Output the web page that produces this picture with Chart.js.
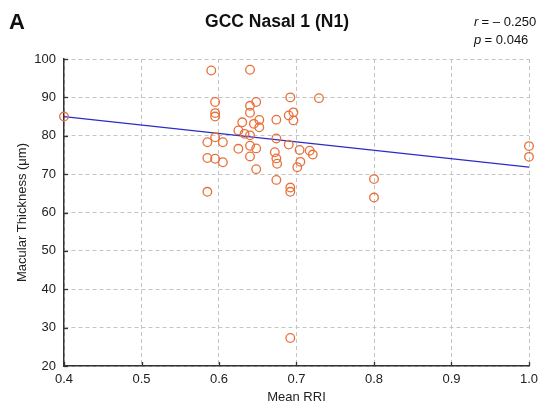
<!DOCTYPE html>
<html>
<head>
<meta charset="utf-8">
<script src="https://cdn.jsdelivr.net/npm/chart.js@4"></script>
<style>
  body { margin: 0; background: #fff; }
  #wrap { width: 550px; height: 413px; }
</style>
</head>
<body>
<div id="wrap"><canvas id="chart" width="550" height="413"></canvas></div>
<script>
// Mean RRI (x) and macular thickness (y)
const meanRRI = [0.40, 0.59, 0.595, 0.595, 0.595, 0.595, 0.585, 0.585, 0.595, 0.605,
  0.585, 0.605, 0.625, 0.625, 0.63, 0.64, 0.64, 0.648, 0.64, 0.64,
  0.64, 0.648, 0.648, 0.645, 0.652, 0.652, 0.64, 0.633, 0.692, 0.729,
  0.674, 0.696, 0.690, 0.696, 0.674, 0.690, 0.704, 0.717, 0.721, 0.672,
  0.674, 0.675, 0.705, 0.701, 0.674, 0.692, 0.692, 0.80, 0.80, 1.0,
  1.0, 0.692];
const thickness = [85.0, 97.0, 88.8, 85.9, 85.0, 79.6, 78.3, 74.2, 74.0, 73.1,
  65.4, 78.3, 81.4, 76.6, 83.5, 87.8, 86.0, 88.8, 97.2, 77.4,
  74.6, 76.7, 71.3, 83.1, 84.1, 82.2, 80.1, 80.5, 90.0, 89.8,
  84.2, 86.1, 85.3, 84.0, 79.3, 77.7, 76.3, 76.1, 75.1, 75.7,
  74.1, 72.7, 73.2, 71.8, 68.5, 66.5, 65.4, 68.7, 63.9, 77.3,
  74.5, 27.3];

// regression line ends
const fitX = [0.4, 1.0];
const fitY = [85.0, 71.8];

const chartTitle = 'GCC Nasal 1 (N1)';
const panelLabel = 'A';
const statR = '\u2013 0.250';
const statP = '0.046';

const points = meanRRI.map((x, i) => ({ x: x, y: thickness[i] }));
const fitLine = fitX.map((x, i) => ({ x: x, y: fitY[i] }));

// header texts and small inward tick marks
const extras = {
  id: 'extras',
  afterDraw(chart) {
    const ctx = chart.ctx;
    const xs = chart.scales.x, ys = chart.scales.y;
    ctx.save();
    ctx.strokeStyle = '#333';
    ctx.lineWidth = 1.3;
    xs.ticks.forEach(t => {
      const px = Math.round(xs.getPixelForValue(t.value)) + 0.5;
      ctx.beginPath();
      ctx.moveTo(px, ys.bottom);
      ctx.lineTo(px, ys.bottom - 4);
      ctx.stroke();
    });
    ys.ticks.forEach(t => {
      const py = Math.round(ys.getPixelForValue(t.value)) + 0.5;
      ctx.beginPath();
      ctx.moveTo(xs.left, py);
      ctx.lineTo(xs.left + 4, py);
      ctx.stroke();
    });

    ctx.fillStyle = '#111';
    ctx.textBaseline = 'middle';
    ctx.textAlign = 'left';
    ctx.font = 'bold 22px "Liberation Sans", Arial, sans-serif';
    ctx.fillText(panelLabel, 9, 23);

    ctx.textAlign = 'center';
    ctx.font = 'bold 17.5px "Liberation Sans", Arial, sans-serif';
    ctx.fillText(chartTitle, 277, 22);

    ctx.textAlign = 'left';
    ctx.font = 'italic 13px "Liberation Sans", Arial, sans-serif';
    ctx.fillText('r', 474, 22);
    ctx.fillText('p', 474, 40);
    ctx.font = '13px "Liberation Sans", Arial, sans-serif';
    ctx.fillText(' = ' + statR, 478, 22);
    ctx.fillText(' = ' + statP, 481, 40);
    ctx.restore();
  }
};

const tickFont = { family: '"Liberation Sans", Arial, sans-serif', size: 13 };

new Chart(document.getElementById('chart'), {
  type: 'scatter',
  data: {
    datasets: [
      {
        label: 'Eyes',
        data: points,
        clip: false,
        pointStyle: 'circle',
        pointRadius: 4.3,
        pointBorderWidth: 1.3,
        pointBackgroundColor: 'rgba(255,255,255,0)',
        pointBorderColor: '#e8703a',
        order: 1
      },
      {
        label: 'Fit',
        type: 'line',
        data: fitLine,
        borderColor: '#2b2bc8',
        borderWidth: 1.2,
        pointRadius: 0,
        fill: false,
        order: 2
      }
    ]
  },
  options: {
    responsive: false,
    animation: false,
    layout: { padding: { left: 0, top: 59, right: 21, bottom: 0 } },
    plugins: {
      legend: { display: false },
      tooltip: { enabled: false }
    },
    scales: {
      x: {
        type: 'linear',
        min: 0.4,
        max: 1.0,
        afterFit: s => { s.height = 47; },
        ticks: {
          stepSize: 0.1,
          padding: 6,
          color: '#222',
          font: tickFont,
          callback: v => v.toFixed(1)
        },
        grid: { color: '#c4c4c4', lineWidth: 1, drawTicks: false },
        border: { display: true, color: '#333', width: 1.5, dash: [4, 3] },
        title: {
          display: true,
          text: 'Mean RRI',
          color: '#222',
          font: tickFont,
          padding: { top: 0, bottom: 8 }
        }
      },
      y: {
        min: 20,
        max: 100,
        afterFit: s => { s.width = 64; },
        ticks: { stepSize: 10, padding: 8, color: '#222', font: tickFont },
        grid: { color: '#c4c4c4', lineWidth: 1, drawTicks: false },
        border: { display: true, color: '#333', width: 1.5, dash: [4, 3] },
        title: {
          display: true,
          text: 'Macular Thickness (\u03bcm)',
          color: '#222',
          font: tickFont,
          padding: { top: 15, bottom: 0 }
        }
      }
    }
  },
  plugins: [extras]
});
</script>
</body>
</html>
